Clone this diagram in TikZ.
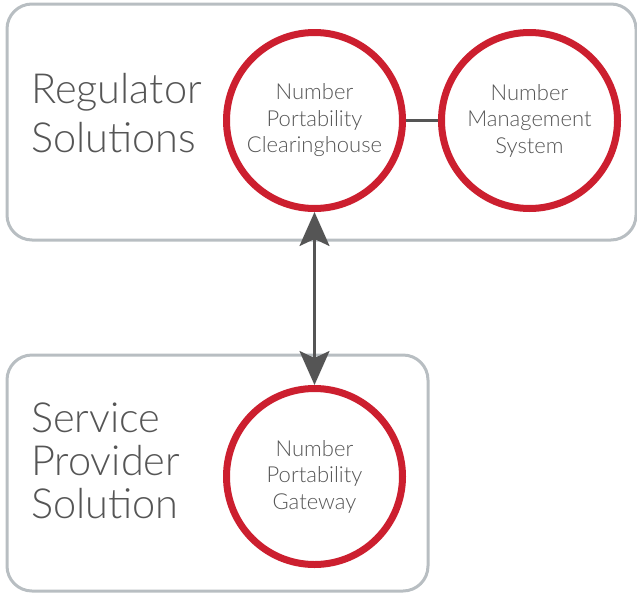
\documentclass[tikz,border=0pt]{standalone}
\usepackage{fontspec}
\setmainfont{Lato Light}
\usetikzlibrary{arrows.meta}
\definecolor{redc}{HTML}{CC1F2F}
\definecolor{boxg}{HTML}{B8BEC2}
\definecolor{txtg}{HTML}{555555}
\begin{document}
\begin{tikzpicture}[x=1pt,y=-1pt,
  grp/.style={draw=boxg,line width=3pt,rounded corners=25pt},
  circ/.style={circle,draw=redc,line width=7pt,minimum size=176pt,inner sep=0pt,align=center,
    text=txtg,font=\fontsize{22}{26.5}\selectfont},
  big/.style={anchor=base west,align=left,text=txtg,inner sep=0pt,font=\fontsize{41.5}{49}\selectfont},
  conn/.style={draw=txtg,line width=2.5pt}]
\useasboundingbox (0,0) rectangle (637,592);
\draw[grp] (7,4) rectangle (636,240);
\draw[grp] (7,355) rectangle (428,591);
\node[big] (rl) at (31,152) {Regulator\\Solutions};
\node[big,font=\fontsize{41.5}{43}\selectfont] (sl) at (31,518) {Service\\Provider\\Solution};
\node[circ] (npc) at (314.5,120.5) {Number\\Portability\\Clearinghouse};
\node[circ] (nms) at (529.5,120.5) {Number\\Management\\System};
\node[circ] (npg) at (314.5,476.5) {Number\\Portability\\Gateway};
\draw[conn] (npc) -- (nms);
\draw[conn,{Stealth[length=34pt,width=30pt,inset=7pt]}-{Stealth[length=34pt,width=30pt,inset=7pt]}] (npc.south) -- (npg.north);
\end{tikzpicture}
\end{document}
